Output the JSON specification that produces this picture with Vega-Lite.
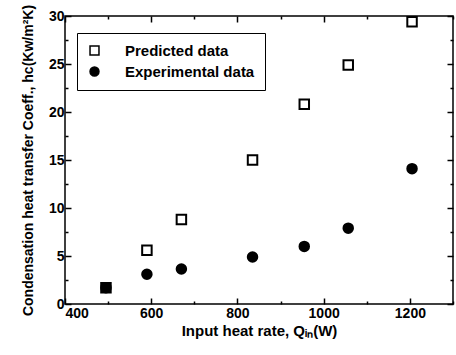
{
  "$schema": "https://vega.github.io/schema/vega-lite/v6.json",
  "autosize": "none",
  "width": 388,
  "height": 288,
  "padding": {"left": 65, "top": 16, "right": 3, "bottom": 51},
  "background": "white",
  "config": {
    "view": {"stroke": "black", "strokeWidth": 1.5},
    "font": "Liberation Sans",
    "axis": {"grid": false, "domain": false, "zindex": 1, "tickColor": "black", "labelColor": "black", "titleColor": "black"}
  },
  "data": {
    "values": [
      {"Q": 495, "h": 1.7, "series": "Predicted data"},
      {"Q": 590, "h": 5.6, "series": "Predicted data"},
      {"Q": 670, "h": 8.8, "series": "Predicted data"},
      {"Q": 835, "h": 15.0, "series": "Predicted data"},
      {"Q": 955, "h": 20.8, "series": "Predicted data"},
      {"Q": 1057, "h": 24.9, "series": "Predicted data"},
      {"Q": 1205, "h": 29.4, "series": "Predicted data"},
      {"Q": 495, "h": 1.7, "series": "Experimental data"},
      {"Q": 590, "h": 3.1, "series": "Experimental data"},
      {"Q": 670, "h": 3.65, "series": "Experimental data"},
      {"Q": 835, "h": 4.9, "series": "Experimental data"},
      {"Q": 955, "h": 6.0, "series": "Experimental data"},
      {"Q": 1057, "h": 7.9, "series": "Experimental data"},
      {"Q": 1205, "h": 14.1, "series": "Experimental data"}
    ]
  },
  "resolve": {"axis": {"x": "independent", "y": "independent"}},
  "layer": [
    {
      "mark": {"type": "point", "opacity": 0},
      "encoding": {
        "x": {"field": "Q", "type": "quantitative", "scale": {"domain": [400, 1300], "nice": false},
          "axis": {"orient": "top", "values": [400,500,600,700,800,900,1000,1100,1200,1300], "labels": false, "title": null,
            "tickSize": {"condition": {"test": "datum.value % 200 === 0", "value": -6}, "value": -3}, "tickWidth": 1.5}},
        "y": {"field": "h", "type": "quantitative", "scale": {"domain": [0, 30], "nice": false},
          "axis": {"orient": "right", "values": [0,2.5,5,7.5,10,12.5,15,17.5,20,22.5,25,27.5,30], "labels": false, "title": null,
            "tickSize": {"condition": {"test": "datum.value % 5 === 0", "value": -6}, "value": -3}, "tickWidth": 1.5}}
      }
    },
    {
      "mark": {"type": "point", "stroke": "black", "strokeWidth": 2, "opacity": 1, "size": 90},
      "encoding": {
        "x": {"field": "Q", "type": "quantitative", "scale": {"domain": [400, 1300], "nice": false},
          "axis": {"orient": "bottom", "values": [400,500,600,700,800,900,1000,1100,1200,1300], "format": "d",
            "labelExpr": "datum.value % 200 === 0 && datum.value < 1300 ? datum.label : ''",
            "labelFontSize": 14, "labelFontWeight": "bold", "labelPadding": 8,
            "tickSize": {"condition": {"test": "datum.value % 200 === 0", "value": -6}, "value": -3}, "tickWidth": 1.5,
            "title": "Input heat rate, Qᵢₙ(W)", "titleFontSize": 15, "titleFontWeight": "bold", "titlePadding": 3}},
        "y": {"field": "h", "type": "quantitative", "scale": {"domain": [0, 30], "nice": false},
          "axis": {"orient": "left", "values": [0,2.5,5,7.5,10,12.5,15,17.5,20,22.5,25,27.5,30],
            "labelExpr": "datum.value % 5 === 0 ? datum.label : ''",
            "labelFontSize": 14, "labelFontWeight": "bold", "labelPadding": 7,
            "tickSize": {"condition": {"test": "datum.value % 5 === 0", "value": -6}, "value": -3}, "tickWidth": 1.5,
            "title": "Condensation heat transfer Coeff., hc(Kw/m²K)", "titleFontSize": 14, "titleFontWeight": "bold", "titlePadding": 13}},
        "shape": {"field": "series", "type": "nominal",
          "scale": {"domain": ["Predicted data", "Experimental data"], "range": ["square", "circle"]},
          "legend": {"title": null, "orient": "none", "legendX": 12, "legendY": 17, "strokeColor": "black", "padding": 10,
            "labelFontSize": 15, "labelFontWeight": "bold", "labelOffset": 23, "rowPadding": 5, "symbolSize": 80,
            "labelExpr": "datum.label + '\u00a0\u00a0'",
            "encode": {"symbols": {"update": {"stroke": {"value": "black"}, "strokeWidth": {"value": 2}}}}}},
        "fill": {"field": "series", "type": "nominal",
          "scale": {"domain": ["Predicted data", "Experimental data"], "range": ["white", "black"]},
          "legend": {"title": null, "orient": "none", "legendX": 12, "legendY": 17, "strokeColor": "black", "padding": 10,
            "labelFontSize": 15, "labelFontWeight": "bold", "labelOffset": 23, "rowPadding": 5, "symbolSize": 80,
            "labelExpr": "datum.label + '\u00a0\u00a0'",
            "encode": {"symbols": {"update": {"stroke": {"value": "black"}, "strokeWidth": {"value": 2}}}}}},
        "order": {"field": "series", "sort": "descending"}
      }
    }
  ]
}
